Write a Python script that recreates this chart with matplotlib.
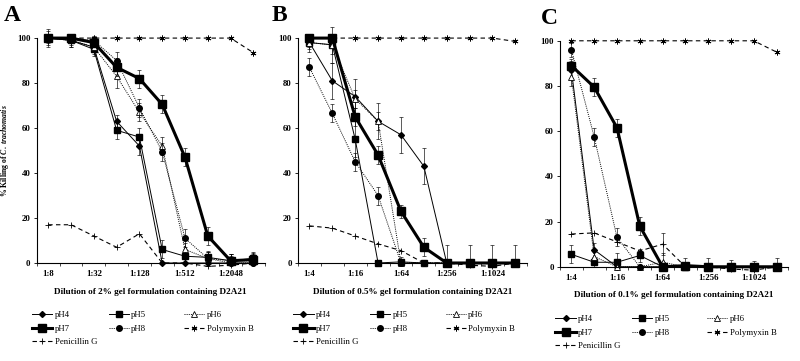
import numpy as np
import matplotlib
matplotlib.use('Agg')
import matplotlib.pyplot as plt
from matplotlib.legend import Legend

plt.rcParams['font.family'] = 'Liberation Serif'
plt.rcParams['mathtext.fontset'] = 'custom'
plt.rcParams['mathtext.it'] = 'Liberation Serif:italic:bold'
plt.rcParams['mathtext.rm'] = 'Liberation Serif:bold'

# ---- data ----
dil_a = ['1:8', '1:16', '1:32', '1:64', '1:128', '1:256', '1:512', '1:1024', '1:2048', '1:4096']
dil_bc = ['1:4', '1:8', '1:16', '1:32', '1:64', '1:128', '1:256', '1:512', '1:1024', '1:2048']
series_names = ['pH4', 'pH5', 'pH6', 'pH7', 'pH8', 'Polymyxin B', 'Penicillin G']

# panel A: 2% gel
a_ph4 = [100, 99, 96, 63, 52, 0, 0, 0, 0, 0]
a_ph5 = [100, 99, 95, 59, 56, 6, 3, 2.5, 1, 2]
a_ph6 = [100, 99, 96, 83, 67, 52, 6, 2, 1, 1]
a_ph7 = [100, 100, 98, 87, 82, 70.5, 47, 12, 1, 1.5]
a_ph8 = [100, 100, 99, 90, 69, 49.5, 11, 2, 0, 0]
a_poly = [100, 100, 100, 100, 100, 100, 100, 100, 100, 93.5]
a_pen = [17, 17, 12, 7, 13, 0, 0, -1.5, -1, 0]
a_err_ph4 = [0, 2, 2, 3, 4, 0, 0, 0, 0, 0]
a_err_ph5 = [4, 3, 3, 4, 4, 4, 3, 3, 3, 3]
a_err_ph6 = [3, 3, 3, 5, 4, 4, 3, 3, 3, 3]
a_err_ph7 = [0, 0, 2, 4, 4, 4, 4, 4, 3, 3]
a_err_ph8 = [2, 2, 2, 4, 4, 4, 4, 3, 3, 3]

# panel B: 0.5% gel
b_ph4 = [98, 81, 74, 63, 57, 43, 0, 0, 0, 0]
b_ph5 = [98, 97, 55, 0, 0.5, 0, 0, 0, 0, 0]
b_ph6 = [98, 97, 73, 63, 0, 0, 0, 0, 0, 0]
b_ph7 = [100, 100, 65, 48, 23, 7, 0, 0, 0, 0]
b_ph8 = [87, 66.5, 45, 30, 0, 0, 0, 0, 0, 0]
b_poly = [100, 100, 100, 100, 100, 100, 100, 100, 100, 98.5]
b_pen = [16.5, 15.5, 12, 8.5, 5.5, 0, 0, -1, -1.5, 0]
b_err_ph4 = [4, 8, 8, 8, 8, 8, 8, 8, 8, 8]
b_err_ph5 = [2, 8, 8, 0, 2, 0, 0, 0, 0, 0]
b_err_ph6 = [3, 4, 4, 4, 0, 0, 0, 0, 0, 0]
b_err_ph7 = [0, 0, 4, 4, 3, 4, 0, 0, 0, 0]
b_err_ph8 = [4, 4, 4, 4, 0, 0, 0, 0, 0, 0]

# panel C: 0.1% gel
c_ph4 = [87, 7.5, 0, 0, 0, 0, 0, 0, 0, 0]
c_ph5 = [5.5, 2, 2, 5, 0, 0, 0, 0, 0, 0]
c_ph6 = [84, 4.5, 0, 0, 2, 0, 0, 0, 0, 0]
c_ph7 = [89, 79.5, 61.5, 18, 0, 0.5, 0, 0, 0, 0]
c_ph8 = [96, 57.5, 13, 0, 0, 0, 0, 0, 0, 0]
c_poly = [100, 100, 100, 100, 100, 100, 100, 100, 100, 95]
c_pen = [14.5, 15, 11, 7, 10, 0, 0, -1, -1.5, 0]
c_err_ph4 = [4, 3, 0, 0, 0, 0, 0, 0, 0, 0]
c_err_ph5 = [4, 2, 4, 3, 0, 0, 0, 0, 0, 0]
c_err_ph6 = [4, 2, 0, 0, 4, 0, 0, 0, 0, 0]
c_err_ph7 = [3, 4, 4, 4, 0, 0, 0, 0, 0, 0]
c_err_ph8 = [3, 4, 4, 0, 0, 0, 0, 0, 0, 0]
c_err_pen = [0, 0, 0, 0, 5, 4, 4, 4, 4, 4]

panels = [
    ('A', dil_a, '2%', [a_ph4, a_ph5, a_ph6, a_ph7, a_ph8, a_poly, a_pen],
     [a_err_ph4, a_err_ph5, a_err_ph6, a_err_ph7, a_err_ph8, None, None]),
    ('B', dil_bc, '0.5%', [b_ph4, b_ph5, b_ph6, b_ph7, b_ph8, b_poly, b_pen],
     [b_err_ph4, b_err_ph5, b_err_ph6, b_err_ph7, b_err_ph8, None, None]),
    ('C', dil_bc, '0.1%', [c_ph4, c_ph5, c_ph6, c_ph7, c_ph8, c_poly, c_pen],
     [c_err_ph4, c_err_ph5, c_err_ph6, c_err_ph7, c_err_ph8, None, c_err_pen]),
]

styles = [
    dict(ls='-', lw=0.7, marker='D', ms=3.0, mfc='black', mec='black'),
    dict(ls='-', lw=0.7, marker='s', ms=4.3, mfc='black', mec='black'),
    dict(ls=(0, (1, 1.2)), lw=0.7, marker='^', ms=3.8, mfc='white', mec='black', mew=0.6),
    dict(ls='-', lw=2.2, marker='s', ms=5.8, mfc='black', mec='black'),
    dict(ls=(0, (1, 1.2)), lw=0.7, marker='o', ms=4.0, mfc='black', mec='black'),
    dict(ls=(0, (4, 3)), lw=0.8, marker=(6, 2, 0), ms=4.2, mfc='black', mec='black', mew=0.6),
    dict(ls=(0, (4, 3)), lw=0.8, marker='+', ms=5, mfc='black', mec='black', mew=0.6),
]

fig = plt.figure(figsize=(8, 3.61), dpi=100)
rects = [(0.046, 0.2715, 0.285, 0.623),
         (0.3725, 0.2715, 0.286, 0.623),
         (0.700, 0.261, 0.285, 0.626)]
letter_x = [-0.145, -0.115, -0.085]

for rect, lx, (letter, dil, conc, ys, errs) in zip(rects, letter_x, panels):
    ax = fig.add_axes(rect)
    x = np.arange(len(dil))
    handles = []
    for y, err, st in zip(ys, errs, styles):
        y = np.array(y, dtype=float)
        if err is not None:
            e = np.array(err, dtype=float)
            lo = np.minimum(e, np.clip(y, 0, None))
            ax.errorbar(x, y, yerr=[lo, e], fmt='none', ecolor='black',
                        elinewidth=0.45, capsize=1.5, capthick=0.45, clip_on=False)
        ln, = ax.plot(x, y, color='black', clip_on=False, **st)
        handles.append(ln)

    ax.set_xlim(-0.5, len(dil) - 0.5)
    ax.set_ylim(0, 100)
    ax.spines['top'].set_visible(False)
    ax.spines['right'].set_visible(False)
    ax.spines['left'].set_linewidth(0.8)
    ax.spines['bottom'].set_linewidth(0.8)
    ax.set_yticks([0, 20, 40, 60, 80, 100])
    ax.set_xticks(x[::2])
    ax.set_xticklabels(dil[::2])
    ax.set_xticks(np.arange(-0.5, len(dil), 1), minor=True)
    ax.tick_params(axis='x', which='major', length=0, pad=5, labelsize=6.3)
    ax.tick_params(axis='x', which='minor', length=2, width=0.5, direction='out')
    ax.tick_params(axis='y', length=2.5, width=0.6, pad=2, labelsize=6.3)
    for lab in ax.get_xticklabels() + ax.get_yticklabels():
        lab.set_fontweight('bold')

    ax.set_xlabel('Dilution of %s gel formulation containing D2A21' % conc,
                  fontsize=6.6, fontweight='bold', labelpad=7)
    if letter == 'A':
        ax.set_ylabel(r'% Killing of $C.\ trachomatis$', fontsize=5.6,
                      fontweight='bold', labelpad=4)

    ax.text(lx, 1.10, letter, transform=ax.transAxes, fontsize=17,
            fontweight='bold', ha='left', va='center')

    # legend: three columns laid out like the original
    cols = [[0, 3, 6], [1, 4], [2, 5]]
    xs = [-0.02, 0.315, 0.645]
    for cx, idx in zip(xs, cols):
        leg = Legend(ax, [handles[i] for i in idx], [series_names[i] for i in idx],
                     loc='upper left', bbox_to_anchor=(cx, -0.215), frameon=False,
                     fontsize=6.3, handlelength=2.3, handletextpad=0.3,
                     labelspacing=0.6, borderpad=0, borderaxespad=0)
        ax.add_artist(leg)

fig.savefig('out.png', dpi=100)
